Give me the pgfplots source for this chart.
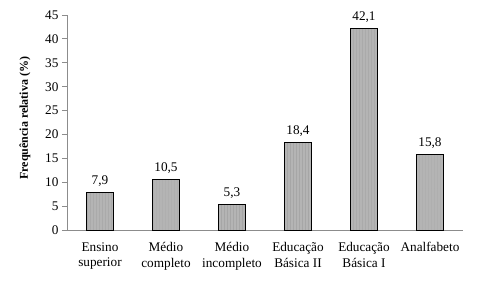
\documentclass[border=0pt]{standalone}
\usepackage{fontspec}
\setmainfont{Liberation Serif}
\usepackage{pgfplots}
\pgfplotsset{compat=1.18}
\usetikzlibrary{patterns}
\definecolor{axgray}{HTML}{8C8C8C}
\definecolor{barfill}{HTML}{B4B4B4}
\begin{document}
\begin{tikzpicture}
\useasboundingbox (0,0) rectangle (480bp,288bp);
\begin{axis}[
  at={(67bp,58bp)}, anchor=south west,
  scale only axis, width=396bp, height=215bp,
  xmin=0, xmax=6, ymin=0, ymax=45,
  axis x line*=bottom, axis y line*=left,
  axis line style={axgray, line width=0.8pt},
  ytick={0,5,...,45},
  y tick style={axgray, line width=0.8pt},
  ytick align=outside, major tick length=5bp,
  xtick={0.5,1.5,2.5,3.5,4.5,5.5},
  xticklabels={{Ensino\\superior},{Médio\\completo},{Médio\\incompleto},{Educação\\Básica II},{Educação\\Básica I},{Analfabeto}},
  x tick label style={align=center, font=\fontsize{13.3}{15.5}\selectfont, yshift=-4bp, anchor=north},
  x tick style={draw=none},
  minor xtick={0,1,...,6},
  minor x tick style={axgray, line width=0.8pt},
  minor tick length=5bp,
  xtick align=outside,
  y tick label style={font=\fontsize{13.3}{15}\selectfont},
  /pgf/number format/assume math mode=true,
  ylabel={\bfseries Frequência relativa (\%)},
  ylabel style={font=\fontsize{12}{13}\selectfont, at={(axis description cs:-0.106,0.52)}, anchor=center, rotate=0},
  nodes near coords={\pgfmathprintnumber[fixed, fixed zerofill, precision=1, use comma]{\pgfplotspointmeta}},
  nodes near coords style={font=\fontsize{13.3}{15}\selectfont, yshift=2bp, /pgf/number format/assume math mode=true},
  clip=false,
]
\addplot[ybar, bar width=27bp, draw=black, line width=1pt, fill=barfill,
  postaction={pattern=vertical lines, pattern color=gray!70}]
  coordinates {(0.5,7.9) (1.5,10.5) (2.5,5.3) (3.5,18.4) (4.5,42.1) (5.5,15.8)};
\end{axis}
\end{tikzpicture}
\end{document}
